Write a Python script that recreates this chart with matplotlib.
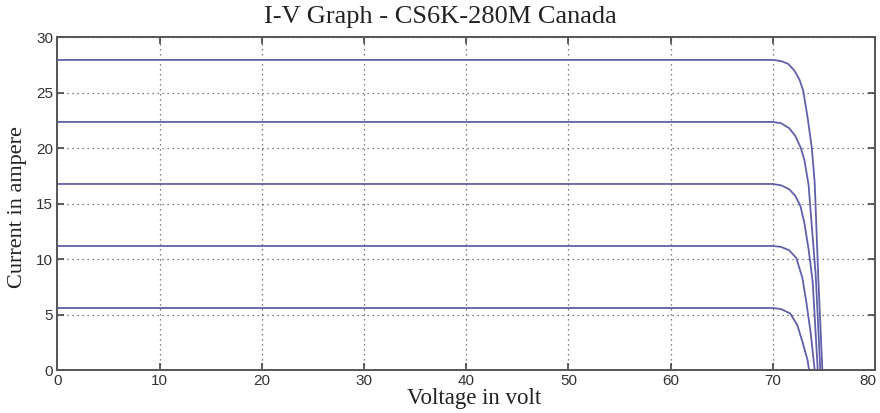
import matplotlib
matplotlib.use("Agg")
import matplotlib.pyplot as plt
from matplotlib.transforms import ScaledTranslation

# I-V curves for five array configurations (voltage in V, current in A)
v1 = [0, 70.0, 70.8, 71.5, 72.1, 72.6, 72.97, 73.4, 73.82, 74.1, 74.44, 74.85]
i1 = [27.95, 27.95, 27.85, 27.6, 27.0, 26.2, 25.2, 22.8, 20.0, 16.9, 8.6, 0]

v2 = [0, 70.0, 70.8, 71.6, 72.2, 72.75, 73.1, 73.5, 73.9, 74.2, 74.65]
i2 = [22.36, 22.36, 22.25, 21.8, 21.1, 20.0, 18.9, 16.7, 12.0, 8.56, 0]

v3 = [0, 70.0, 70.8, 71.6, 72.2, 72.7, 73.1, 73.5, 73.9, 74.4]
i3 = [16.77, 16.77, 16.65, 16.3, 15.7, 14.8, 13.2, 10.9, 8.0, 0]

v4 = [0, 70.0, 70.8, 71.6, 72.3, 72.9, 73.3, 73.7, 74.1]
i4 = [11.18, 11.18, 11.1, 10.8, 10.1, 8.3, 6.0, 3.4, 0]

v5 = [0, 70.0, 70.8, 71.7, 72.4, 72.9, 73.4, 73.55]
i5 = [5.59, 5.59, 5.5, 5.1, 4.05, 2.55, 0.9, 0]

curves = [(v1, i1), (v2, i2), (v3, i3), (v4, i4), (v5, i5)]

x_ticks = [0, 10, 20, 30, 40, 50, 60, 70, 80]
y_ticks = [0, 5, 10, 15, 20, 25, 30]

fig = plt.figure(figsize=(8.8, 4.13), dpi=100)
ax = fig.add_axes([0.0653, 0.104, 0.929, 0.806])

line_color = "#6060aa"
for v, i in curves:
    ax.plot(v, i, color=line_color, linewidth=1.3)

ax.set_xlim(0, 80)
ax.set_ylim(0, 30)
ax.set_xticks(x_ticks)
ax.set_yticks(y_ticks)

ax.grid(True, linestyle=(0, (1, 3)), color="#555555", linewidth=0.9)
ax.tick_params(direction="in", length=5, width=1.2, colors="#444444",
               top=True, right=True, labelsize=11, pad=3)
for lab in ax.get_xticklabels() + ax.get_yticklabels():
    lab.set_fontfamily("Liberation Sans")
    lab.set_color("#333333")
for s in ax.spines.values():
    s.set_color("#555555")
    s.set_linewidth(1.4)

# keep the last x tick label inside the canvas
last = ax.get_xticklabels()[-1]
last.set_transform(last.get_transform() + ScaledTranslation(-5 / 72, 0, fig.dpi_scale_trans))

serif = "Liberation Serif"
fig.text(0.5, 0.958, "I-V Graph - CS6K-280M Canada", fontfamily=serif,
         fontsize=19, color="#222222", ha="center", va="center")
ax.set_xlabel("Voltage in volt", fontfamily=serif, fontsize=16.5, color="#222222")
ax.xaxis.set_label_coords(0.51, -0.055, transform=ax.transAxes)
ax.xaxis.label.set_va("top")
ax.set_ylabel("Current in ampere", fontfamily=serif, fontsize=16, color="#222222")
ax.yaxis.set_label_coords(-0.037, 0.49, transform=ax.transAxes)

fig.savefig("out.png", dpi=100)
